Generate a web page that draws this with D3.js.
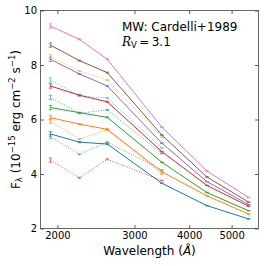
<!DOCTYPE html>
<html>
<head>
<meta charset="utf-8">
<script src="https://cdn.jsdelivr.net/npm/d3@7"></script>
<style>
  body { margin: 0; background: #fff; }
  svg { display: block; font-family: "DejaVu Sans", sans-serif; }
</style>
</head>
<body>
<svg id="chart" width="266" height="266"></svg>
<script>
// Swift UVOT effective wavelengths (Angstrom)
const waveFull = [1928, 2246, 2600, 3465, 4392, 5468];
const waveUV = [1928, 2246, 2600, 3465];

// solid series (6 bands)
const fluxBlue   = [5.47, 5.17, 5.10, 3.66, 2.84, 2.35];
const fluxOrange = [6.07, 5.83, 5.64, 4.08, 3.20, 2.53];
const fluxGreen  = [6.44, 6.25, 6.08, 4.43, 3.32, 2.65];
const fluxRed    = [7.23, 6.89, 6.65, 4.82, 3.58, 2.82];
const fluxPurple = [8.21, 7.67, 7.23, 5.13, 3.72, 2.88];
const fluxBrown  = [8.73, 8.16, 7.72, 5.43, 3.89, 2.97];
const fluxPink   = [9.43, 8.94, 8.21, 5.72, 4.11, 3.14];

// dotted series (UV + U only)
const fluxOliveDot  = [8.30, 7.78, 7.45, 5.35];
const fluxCyanDot   = [7.45, 6.87, 6.79, 4.95];
const fluxBlueDot   = [6.81, 6.23, 6.35, 4.75];
const fluxOrangeDot = [5.94, 5.28, 5.62, 4.00];
const fluxGreenDot  = [5.37, 4.72, 5.17, 4.15];
const fluxRedDot    = [4.51, 3.86, 4.54, 3.76];

// rough error sizes: larger in UVW2
const errFull = [0.08, 0.02, 0.02, 0.01, 0.01, 0.01];
const errUV = [0.08, 0.02, 0.02, 0.01];

const yTicks = [2, 4, 6, 8, 10];
const xTicks = [2000, 3000, 4000, 5000];

const series = [
    { wave: waveUV, flux: fluxOliveDot, err: errUV, color: "#bcbd22", dotted: true },
    { wave: waveUV, flux: fluxCyanDot, err: errUV, color: "#17becf", dotted: true },
    { wave: waveUV, flux: fluxBlueDot, err: errUV, color: "#1f77b4", dotted: true },
    { wave: waveUV, flux: fluxOrangeDot, err: errUV, color: "#ff7f0e", dotted: true },
    { wave: waveUV, flux: fluxGreenDot, err: errUV, color: "#2ca02c", dotted: true },
    { wave: waveUV, flux: fluxRedDot, err: errUV, color: "#d62728", dotted: true },
    { wave: waveFull, flux: fluxBlue, err: errFull, color: "#1f77b4" },
    { wave: waveFull, flux: fluxOrange, err: errFull, color: "#ff7f0e" },
    { wave: waveFull, flux: fluxGreen, err: errFull, color: "#2ca02c" },
    { wave: waveFull, flux: fluxRed, err: errFull, color: "#d62728" },
    { wave: waveFull, flux: fluxPurple, err: errFull, color: "#9467bd" },
    { wave: waveFull, flux: fluxBrown, err: errFull, color: "#8c564b" },
    { wave: waveFull, flux: fluxPink, err: errFull, color: "#e377c2" },
];

const plotLeft = 40.5, plotRight = 258.5, plotTop = 10.5, plotBottom = 228.5;

const svg = d3.select("#chart");

const x = d3.scaleLog().domain([1830, 5760]).range([plotLeft, plotRight]);
const y = d3.scaleLinear().domain([2, 10]).range([plotBottom, plotTop]);

// clip to the axes box
svg.append("defs").append("clipPath").attr("id", "clip")
    .append("rect")
    .attr("x", plotLeft).attr("y", plotTop)
    .attr("width", plotRight - plotLeft).attr("height", plotBottom - plotTop);

const plot = svg.append("g").attr("clip-path", "url(#clip)");

const line = d3.line()
    .x((d) => x(d[0]))
    .y((d) => y(d[1]));

series.forEach((s) => {
    const pts = s.wave.map((w, i) => [w, s.flux[i], s.err[i]]);
    const g = plot.append("g").attr("stroke", s.color).attr("fill", "none")
        .attr("opacity", s.dotted ? 0.8 : 1);
    g.append("path")
        .attr("d", line(pts))
        .attr("stroke-width", 1)
        .attr("stroke-dasharray", s.dotted ? "1,1.6" : null);
    // error bars with caps
    pts.forEach((p) => {
        const cx = x(p[0]);
        g.append("line")
            .attr("x1", cx).attr("x2", cx)
            .attr("y1", y(p[1] - p[2])).attr("y2", y(p[1] + p[2]))
            .attr("stroke-width", 0.8);
        [p[1] - p[2], p[1] + p[2]].forEach((v) => {
            g.append("line")
                .attr("x1", cx - 1.8).attr("x2", cx + 1.8)
                .attr("y1", y(v)).attr("y2", y(v))
                .attr("stroke-width", 0.7);
        });
    });
});

// axes with inward ticks
function styleAxis(g) {
    g.select(".domain").remove();
    g.selectAll(".tick line").attr("stroke", "#333").attr("stroke-width", 0.8);
    g.selectAll(".tick text").attr("fill", "#000").attr("font-size", 10)
        .attr("font-family", "DejaVu Sans");
}

svg.append("g")
    .attr("transform", `translate(0,${plotBottom})`)
    .call(d3.axisBottom(x).tickValues(xTicks).tickFormat(d3.format("d"))
        .tickSize(-3.5).tickPadding(3.5))
    .call(styleAxis);

svg.append("g")
    .attr("transform", `translate(0,${plotTop})`)
    .call(d3.axisTop(x).tickValues(xTicks).tickFormat("").tickSize(-3.5))
    .call(styleAxis);

svg.append("g")
    .attr("transform", `translate(${plotLeft},0)`)
    .call(d3.axisLeft(y).tickValues(yTicks).tickFormat(d3.format("d"))
        .tickSize(-3.5).tickPadding(3.5))
    .call(styleAxis);

svg.append("g")
    .attr("transform", `translate(${plotRight},0)`)
    .call(d3.axisRight(y).tickValues(yTicks).tickFormat("").tickSize(-3.5))
    .call(styleAxis);

// frame
svg.append("rect")
    .attr("x", plotLeft).attr("y", plotTop)
    .attr("width", plotRight - plotLeft).attr("height", plotBottom - plotTop)
    .attr("fill", "none").attr("stroke", "#444").attr("stroke-width", 0.8);

// annotation
const note = svg.append("g").attr("font-size", 12).attr("fill", "#000");
note.append("text").attr("x", 122).attr("y", 30.5).text("MW: Cardelli+1989");
const rv = note.append("text").attr("x", 122).attr("y", 45.5);
rv.append("tspan").attr("font-family", "DejaVu Serif").attr("font-style", "italic").text("R");
rv.append("tspan").attr("font-size", 8.5).attr("dy", 2).text("V");
rv.append("tspan").attr("dy", -2).text("\u2009=\u20093.1");

// x label
const xl = svg.append("text")
    .attr("x", (plotLeft + plotRight) / 2).attr("y", 254.5)
    .attr("text-anchor", "middle").attr("font-size", 12);
xl.append("tspan").text("Wavelength (");
xl.append("tspan").attr("font-style", "italic").text("\u00c5");
xl.append("tspan").text(")");

// y label
const yl = svg.append("text")
    .attr("transform", `translate(20,${(plotTop + plotBottom) / 2}) rotate(-90)`)
    .attr("text-anchor", "middle").attr("font-size", 12);
yl.append("tspan").text("F");
yl.append("tspan").attr("font-size", 8.5).attr("dy", 2).text("\u03bb");
yl.append("tspan").attr("dy", -2).text(" (10");
yl.append("tspan").attr("font-size", 8.5).attr("dy", -5).text("\u221215");
yl.append("tspan").attr("dy", 5).text(" erg cm");
yl.append("tspan").attr("font-size", 8.5).attr("dy", -5).text("\u22122");
yl.append("tspan").attr("dy", 5).text(" s");
yl.append("tspan").attr("font-size", 8.5).attr("dy", -5).text("\u22121");
yl.append("tspan").attr("dy", 5).text(")");
</script>
</body>
</html>
